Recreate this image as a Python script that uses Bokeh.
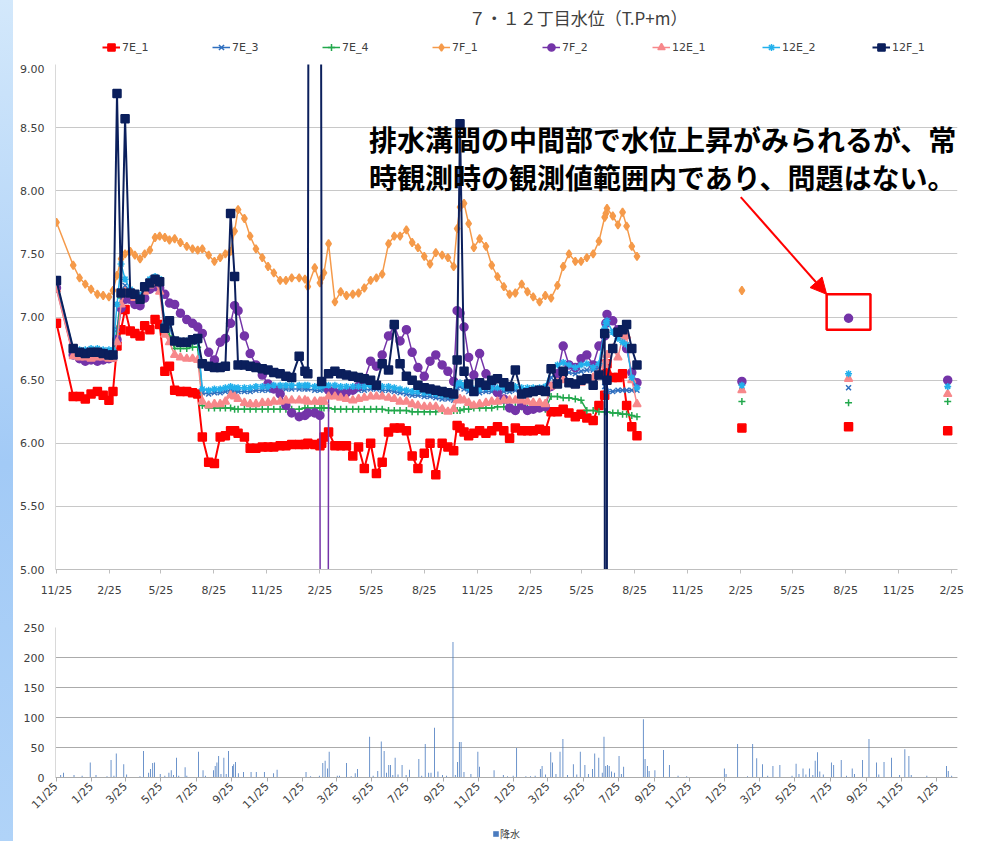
import math
import numpy as np
import pandas as pd
from bokeh.plotting import figure
from bokeh.models import (ColumnDataSource, Legend, LegendItem, Label, Arrow,
                          NormalHead, BoxAnnotation, FixedTicker, Range1d,
                          PrintfTickFormatter)
from bokeh.layouts import column
from bokeh.embed import file_html
from bokeh.resources import INLINE

# ---------------------------------------------------------------- data
START_DATE = "2012-11-25"

# observation days (days since START_DATE)
obs_day = [
    0, 29, 40, 50, 60, 71, 81, 91, 98, 105,
    112, 119, 128, 136, 145, 153, 162, 171, 179, 188,
    196, 205, 215, 226, 236, 245, 253, 264, 274, 284,
    293, 302, 309, 315, 326, 336, 346, 357, 367, 377,
    388, 398, 408, 421, 431, 436, 448, 457, 460, 464,
    472, 483, 493, 503, 514, 524, 534, 545, 555, 565,
    576, 586, 596, 607, 617, 627, 638, 648, 658, 669,
    679, 689, 695, 700, 707, 715, 724, 734, 745, 755,
    765, 776, 786, 796, 807, 817, 827, 838, 848, 858,
    869, 879, 889, 900, 910, 920, 931, 941, 951, 953,
    955, 965, 974, 982, 989, 998, 1007, 1189, 1374, 1546,
]

w_7E_1 = [
    6.95, 6.37, 6.37, 6.35, 6.39, 6.41, 6.38, 6.34, 6.41, 6.77,
    6.90, 7.06, 6.89, 6.87, 6.85, 6.93, 6.90, 6.98, 6.94, 6.57,
    6.61, 6.42, 6.41, 6.41, 6.40, 6.39, 6.05, 5.85, 5.84, 6.05,
    6.06, 6.10, 6.10, 6.08, 6.05, 5.96, 5.96, 5.97, 5.97, 5.97,
    5.98, 5.98, 5.99, 5.99, 5.99, 6.00, 5.99, 5.98, 6.00, 6.05,
    6.09, 5.98, 5.98, 5.98, 5.90, 5.97, 5.80, 6.00, 5.76, 5.85,
    6.09, 6.12, 6.12, 6.10, 5.90, 5.80, 5.92, 6.00, 5.75, 6.00,
    5.97, 5.94, 6.14, 6.12, 6.09, 6.06, 6.08, 6.10, 6.08, 6.10,
    6.13, 6.10, 6.04, 6.12, 6.10, 6.10, 6.10, 6.11, 6.10, 6.25,
    6.25, 6.27, 6.24, 6.21, 6.23, 6.20, 6.18, 6.30, 6.38, 6.55,
    6.63, 6.52, 6.52, 6.55, 6.30, 6.13, 6.06, 6.12, 6.13, 6.10,
]
w_7E_3 = [
    7.26, 6.73, 6.73, 6.72, 6.73, 6.73, 6.72, 6.72, 6.72, 6.90,
    7.18, 7.25, 7.20, 7.18, 7.15, 7.22, 7.28, 7.30, 7.28, 6.92,
    6.92, 6.80, 6.79, 6.79, 6.80, 6.81, 6.40, 6.39, 6.40, 6.40,
    6.41, 6.42, 6.41, 6.41, 6.41, 6.41, 6.42, 6.42, 6.42, 6.43,
    6.43, 6.43, 6.43, 6.43, 6.43, 6.43, 6.42, 6.42, 6.43, 6.43,
    6.43, 6.43, 6.42, 6.42, 6.42, 6.42, 6.42, 6.43, 6.43, 6.42,
    6.42, 6.41, 6.40, 6.39, 6.38, 6.38, 6.37, 6.37, 6.36, 6.35,
    6.35, 6.34, 6.44, 6.45, 6.43, 6.41, 6.40, 6.40, 6.41, 6.41,
    6.41, 6.41, 6.41, 6.42, 6.41, 6.41, 6.41, 6.41, 6.42, 6.52,
    6.55, 6.57, 6.56, 6.55, 6.57, 6.58, 6.58, 6.60, 6.45, 6.42,
    6.41, 6.41, 6.42, 6.42, 6.42, 6.42, 6.42, 6.45, 6.44, 6.46,
]
w_7E_4 = [
    7.25, 6.70, 6.69, 6.68, 6.69, 6.69, 6.68, 6.68, 6.69, 6.85,
    7.15, 7.20, 7.18, 7.16, 7.14, 7.20, 7.25, 7.27, 7.26, 6.90,
    6.85, 6.75, 6.75, 6.75, 6.76, 6.76, 6.30, 6.28, 6.28, 6.28,
    6.28, 6.28, 6.27, 6.27, 6.27, 6.27, 6.27, 6.27, 6.27, 6.27,
    6.27, 6.27, 6.27, 6.27, 6.28, 6.28, 6.28, 6.28, 6.28, 6.28,
    6.28, 6.27, 6.27, 6.27, 6.27, 6.27, 6.27, 6.27, 6.27, 6.27,
    6.26, 6.26, 6.26, 6.26, 6.25, 6.25, 6.25, 6.25, 6.25, 6.26,
    6.26, 6.26, 6.26, 6.26, 6.27, 6.27, 6.28, 6.28, 6.28, 6.28,
    6.29, 6.29, 6.29, 6.29, 6.29, 6.28, 6.28, 6.28, 6.27, 6.37,
    6.37, 6.36, 6.36, 6.35, 6.34, 6.26, 6.26, 6.25, 6.25, 6.25,
    6.25, 6.24, 6.24, 6.23, 6.23, 6.22, 6.21, 6.33, 6.32, 6.33,
]
w_7F_1 = [
    7.75, 7.41, 7.31, 7.26, 7.22, 7.18, 7.17, 7.16, 7.21, 7.33,
    7.46, 7.50, 7.52, 7.49, 7.46, 7.50, 7.53, 7.63, 7.64, 7.63,
    7.61, 7.62, 7.59, 7.56, 7.54, 7.53, 7.54, 7.49, 7.44, 7.47,
    7.50, 7.52, 7.68, 7.85, 7.78, 7.64, 7.54, 7.47, 7.40, 7.35,
    7.29, 7.29, 7.31, 7.31, 7.30, 7.24, 7.39, 7.27, 7.31, 7.35,
    7.58, 7.12, 7.20, 7.17, 7.18, 7.19, 7.23, 7.29, 7.31, 7.34,
    7.58, 7.64, 7.64, 7.69, 7.59, 7.55, 7.48, 7.42, 7.51, 7.49,
    7.47, 7.40, 7.70, 7.87, 7.90, 7.74, 7.55, 7.62, 7.56, 7.41,
    7.32, 7.24, 7.18, 7.19, 7.26, 7.20, 7.16, 7.12, 7.17, 7.15,
    7.25, 7.40, 7.50, 7.44, 7.44, 7.47, 7.50, 7.60, 7.79, 7.82,
    7.86, 7.80, 7.73, 7.83, 7.72, 7.56, 7.48, 7.21, None, None,
]
w_7F_2 = [
    7.23, 6.70, 6.67, 6.65, 6.66, 6.65, 6.66, 6.67, 6.68, 6.82,
    7.07, 7.14, 7.14, 7.10, 7.09, 7.15, 7.22, 7.24, 7.23, 7.18,
    7.11, 7.10, 7.03, 6.98, 6.95, 6.92, 6.87, 6.72, 6.66, 6.80,
    6.83, 6.95, 7.09, 7.05, 6.85, 6.71, 6.62, 6.54, 6.47, 6.43,
    6.39, 6.30, 6.24, 6.21, 6.22, 6.24, 6.24, 6.22, None, -20.0,
    6.42, 6.40, 6.38, 6.40, 6.42, 6.45, 6.50, 6.65, 6.61, 6.70,
    6.85, 6.93, 6.81, 6.90, 6.72, 6.60, 6.53, 6.65, 6.70, 6.62,
    6.57, 6.49, 7.05, 7.03, 6.92, 6.68, 6.54, 6.71, 6.55, 6.48,
    6.40, 6.35, 6.28, 6.26, 6.30, 6.26, 6.27, 6.28, 6.29, 6.45,
    6.55, 6.77, 6.62, 6.60, 6.67, 6.70, 6.62, 6.77, 6.85, 6.95,
    7.02, 6.97, 6.90, 6.88, 6.75, 6.56, 6.48, 6.49, 6.99, 6.50,
]
w_12E_1 = [
    7.22, 6.69, 6.68, 6.68, 6.67, 6.68, 6.68, 6.67, 6.67, 6.80,
    7.10, 7.20, 7.18, 7.15, 7.13, 7.20, 7.25, 7.27, 7.20, 6.86,
    6.80, 6.70, 6.68, 6.67, 6.67, 6.66, 6.33, 6.30, 6.31, 6.31,
    6.33, 6.38, 6.37, 6.35, 6.32, 6.31, 6.31, 6.32, 6.32, 6.33,
    6.33, 6.34, 6.34, 6.34, 6.34, 6.33, 6.33, 6.33, 6.33, 6.33,
    6.37, 6.37, 6.36, 6.35, 6.34, 6.35, 6.36, 6.37, 6.37, 6.37,
    6.36, 6.35, 6.33, 6.33, 6.31, 6.30, 6.29, 6.29, 6.29, 6.27,
    6.25, 6.27, 6.34, 6.35, 6.34, 6.32, 6.30, 6.31, 6.32, 6.33,
    6.33, 6.34, 6.34, 6.34, 6.34, 6.33, 6.32, 6.32, 6.31, 6.45,
    6.48, 6.50, 6.47, 6.46, 6.48, 6.50, 6.52, 6.55, 6.62, 6.65,
    6.70, 6.75, 6.68, 6.84, 6.85, 6.50, 6.31, 6.42, 6.51, 6.39,
]
w_12E_2 = [
    7.28, 6.75, 6.74, 6.74, 6.75, 6.75, 6.74, 6.74, 6.74, 7.10,
    7.42, 7.30, 7.22, 7.19, 7.17, 7.24, 7.30, 7.32, 7.30, 6.95,
    6.95, 6.82, 6.81, 6.81, 6.82, 6.83, 6.43, 6.42, 6.43, 6.43,
    6.44, 6.45, 6.44, 6.44, 6.44, 6.44, 6.45, 6.45, 6.45, 6.46,
    6.46, 6.46, 6.46, 6.46, 6.46, 6.46, 6.45, 6.45, 6.46, 6.46,
    6.46, 6.46, 6.45, 6.45, 6.45, 6.45, 6.45, 6.46, 6.46, 6.45,
    6.45, 6.44, 6.43, 6.42, 6.41, 6.41, 6.40, 6.40, 6.39, 6.38,
    6.38, 6.37, 6.47, 6.48, 6.46, 6.44, 6.43, 6.43, 6.44, 6.44,
    6.44, 6.44, 6.44, 6.45, 6.44, 6.44, 6.44, 6.44, 6.45, 6.58,
    6.62, 6.64, 6.62, 6.60, 6.62, 6.63, 6.60, 6.63, 6.91, 6.95,
    6.97, 6.88, 6.83, 6.80, 6.78, 6.52, 6.44, 6.46, 6.55, 6.45,
]
w_12F_1 = [
    7.29, 6.75, 6.72, 6.71, 6.72, 6.72, 6.71, 6.70, 6.70, 8.77,
    7.19, 8.57, 7.19, 7.18, 7.14, 7.24, 7.27, 7.30, 7.28, 6.91,
    6.97, 6.81, 6.80, 6.80, 6.82, 6.83, 6.63, 6.61, 6.60, 6.60,
    6.61, 7.82, 7.32, 6.62, 6.62, 6.61, 6.60, 6.59, 6.58, 6.56,
    6.55, 6.53, 6.52, 6.69, 6.57, 6.55, 40.0, None, 6.49, None,
    6.55, 6.57, 6.55, 6.54, 6.53, 6.52, 6.51, 6.50, 6.46, 6.63,
    6.58, 6.94, 6.63, 6.53, 6.50, 6.46, 6.44, 6.43, 6.42, 6.41,
    6.40, 6.39, 6.66, 8.53, 6.57, 6.47, 6.41, 6.48, 6.46, 6.50,
    6.51, 6.48, 6.45, 6.58, 6.39, 6.40, 6.41, 6.42, 6.41, 6.59,
    6.47, 6.57, 6.48, 6.47, 6.50, 6.51, 6.46, 6.54, 6.87, -15.0,
    6.50, 6.75, 6.88, 6.90, 6.94, 6.75, 6.62, None, None, None,
]

level_ticks = [5.0, 5.5, 6.0, 6.5, 7.0, 7.5, 8.0, 8.5, 9.0]
top_tick_dates = ["2012-11-25", "2013-02-25", "2013-05-25", "2013-08-25", "2013-11-25",
                  "2014-02-25", "2014-05-25", "2014-08-25", "2014-11-25", "2015-02-25",
                  "2015-05-25", "2015-08-25", "2015-11-25", "2016-02-25", "2016-05-25",
                  "2016-08-25", "2016-11-25", "2017-02-25"]
top_tick_labels = ["11/25", "2/25", "5/25", "8/25", "11/25", "2/25", "5/25", "8/25", "11/25",
                   "2/25", "5/25", "8/25", "11/25", "2/25", "5/25", "8/25", "11/25", "2/25"]

# daily rainfall (mm): day since START_DATE, amount
rain_day = [8, 13, 31, 45, 59, 69, 88, 95, 100, 104, 117, 122, 145, 151, 160, 163, 167, 170,
            180, 188, 195, 199, 203, 208, 212, 223, 226, 246, 254, 258, 272, 275, 278, 281,
            285, 290, 294, 298, 305, 307, 310, 315, 324, 337, 346, 360, 376, 382, 432, 440,
            455, 461, 465, 469, 472, 486, 490, 502, 510, 517, 521, 542, 548, 556, 562, 567,
            571, 575, 578, 582, 586, 591, 598, 605, 611, 627, 632, 638, 644, 648, 654, 660,
            668, 675, 686, 690, 694, 697, 700, 705, 717, 729, 732, 757, 773, 780, 790, 796,
            812, 820, 828, 837, 840, 846, 855, 858, 864, 871, 876, 884, 894, 900, 906, 914,
            920, 927, 931, 938, 944, 947, 950, 953, 956, 960, 965, 973, 977, 981, 1015, 1018,
            1022, 1025, 1035, 1050, 1060, 1075, 1090, 1155, 1158, 1178, 1195, 1204, 1211,
            1221, 1230, 1239, 1251, 1272, 1279, 1284, 1291, 1296, 1302, 1308, 1312, 1316,
            1320, 1326, 1340, 1344, 1357, 1366, 1376, 1380, 1394, 1405, 1418, 1422, 1431,
            1444, 1458, 1467, 1474, 1478, 1505, 1539, 1542, 1548]
rain_mm = [4, 8, 4, 3, 25, 4, 2, 29, 3, 40, 22, 5, 2, 44, 8, 14, 24, 25,
           6, 3, 8, 12, 4, 33, 3, 17, 3, 43, 12, 3, 12, 19, 25, 36,
           6, 33, 6, 44, 19, 22, 26, 7, 9, 9, 9, 9, 7, 13, 9, 2,
           3, 24, 28, 15, 43, 3, 3, 24, 2, 7, 14, 68, 3, 11, 60, 44,
           8, 21, 21, 4, 33, 5, 21, 4, 13, 31, 3, 56, 8, 8, 83, 10,
           4, 3, 226, 4, 26, 59, 59, 9, 6, 43, 18, 12, 4, 2, 3, 49,
           2, 2, 3, 14, 19, 5, 42, 25, 6, 43, 64, 4, 22, 5, 43, 21,
           6, 14, 40, 33, 8, 68, 19, 21, 19, 10, 8, 36, 6, 18, 97, 31,
           19, 11, 12, 46, 21, 3, 2, 15, 6, 56, 2, 56, 32,
           22, 3, 19, 21, 3, 23, 6, 15, 5, 15, 4, 28, 42,
           10, 5, 25, 21, 29, 3, 15, 6, 29, 64, 25, 5, 26,
           33, 4, 47, 36, 4, 3, 19, 11, 3]
rain_ticks = [0, 50, 100, 150, 200, 250]
bot_tick_dates = ["2012-11-25", "2013-01-25", "2013-03-25", "2013-05-25", "2013-07-25",
                  "2013-09-25", "2013-11-25", "2014-01-25", "2014-03-25", "2014-05-25",
                  "2014-07-25", "2014-09-25", "2014-11-25", "2015-01-25", "2015-03-25",
                  "2015-05-25", "2015-07-25", "2015-09-25", "2015-11-25", "2016-01-25",
                  "2016-03-25", "2016-05-25", "2016-07-25", "2016-09-25", "2016-11-25",
                  "2017-01-25"]
bot_tick_labels = ["11/25", "1/25", "3/25", "5/25", "7/25", "9/25", "11/25", "1/25", "3/25",
                   "5/25", "7/25", "9/25", "11/25", "1/25", "3/25", "5/25", "7/25", "9/25",
                   "11/25", "1/25", "3/25", "5/25", "7/25", "9/25", "11/25", "1/25"]

TITLE = "７・１２丁目水位（T.P+m）"
NOTE_1 = "排水溝間の中間部で水位上昇がみられるが、常"
NOTE_2 = "時観測時の観測値範囲内であり、問題はない。"
HIGHLIGHT_DAY = 1374   # the 7F_2 reading that is called out

# ---------------------------------------------------------------- helpers
def days_since(dates):
    t0 = pd.Timestamp(START_DATE)
    return [int((pd.Timestamp(d) - t0).days) for d in dates]


def with_breaks(days, vals, max_gap=60):
    xs, ys, prev = [], [], None
    for d, v in zip(days, vals):
        if v is None:
            continue
        if prev is not None and d - prev > max_gap:
            xs.append(np.nan)
            ys.append(np.nan)
        xs.append(d)
        ys.append(v)
        prev = d
    return xs, ys


def bare_figure(width, height, y_lo):
    # strip figure without axes; its y range lies far away from the data so
    # that only its annotations (title / legends) are visible
    f = figure(width=width, height=height, x_range=Range1d(0, width),
               y_range=Range1d(y_lo, y_lo + height), output_backend="svg",
               toolbar_location=None, title=None, x_axis_location=None,
               y_axis_location=None, min_border=0, outline_line_color=None,
               background_fill_color=None, border_fill_color=None)
    f.grid.visible = False
    return f


TXT = "#404040"
NUMFONT = "DejaVu Sans"
JPFONT = "Noto Sans CJK JP"
W = 977

# ---------------------------------------------------------------- header (title + legend)
head = bare_figure(W, 64, 1000)
head.add_layout(Label(x=566, y=1047, text=TITLE, text_align="center", text_baseline="middle",
                      text_font=JPFONT, text_font_size="17px", text_color=TXT))

# ---------------------------------------------------------------- water level chart
p = figure(width=W, height=537,
           x_range=Range1d(-1.7, 1563), y_range=Range1d(5.0, 9.0),
           output_backend="svg", toolbar_location=None, title=None,
           min_border_left=50, min_border_right=19, min_border_top=0, min_border_bottom=32,
           outline_line_color=None, background_fill_color="white", border_fill_color=None)

p.xgrid.visible = False
p.ygrid.grid_line_color = "#c8c8c8"
p.ygrid.grid_line_width = 1

p.yaxis.ticker = FixedTicker(ticks=level_ticks)
p.yaxis.formatter = PrintfTickFormatter(format="%.2f")
p.yaxis.major_tick_in = 0
p.yaxis.major_tick_out = 0
p.yaxis.major_tick_line_color = None
p.yaxis.minor_tick_line_color = None
p.yaxis.axis_line_color = "#d9d9d9"
p.yaxis.major_label_standoff = 11
p.yaxis.major_label_text_font = NUMFONT
p.yaxis.major_label_text_font_size = "11px"
p.yaxis.major_label_text_color = TXT

top_days = days_since(top_tick_dates)
p.xaxis.ticker = FixedTicker(ticks=top_days)
p.xaxis.major_label_overrides = {d: lab for d, lab in zip(top_days, top_tick_labels)}
p.xaxis.minor_tick_line_color = None
p.xaxis.major_tick_in = 0
p.xaxis.major_tick_out = 4
p.xaxis.major_tick_line_color = "#bfbfbf"
p.xaxis.axis_line_color = "#bfbfbf"
p.xaxis.major_label_standoff = 10
p.xaxis.major_label_text_font = NUMFONT
p.xaxis.major_label_text_font_size = "11px"
p.xaxis.major_label_text_color = TXT

series = [
    ("7E_1", w_7E_1, "#ff0000", "square", 8, 2.0),
    ("7E_3", w_7E_3, "#2f6fbf", "x", 7, 1.5),
    ("7E_4", w_7E_4, "#22a84c", "cross", 7, 1.5),
    ("7F_1", w_7F_1, "#f59a4a", "diamond", 8, 1.5),
    ("7F_2", w_7F_2, "#7434a8", "circle", 8, 1.5),
    ("12E_1", w_12E_1, "#f7888b", "triangle", 8, 1.5),
    ("12E_2", w_12E_2, "#22b0ec", "asterisk", 7, 1.5),
    ("12F_1", w_12F_1, "#0b1f5c", "square", 8, 2.0),
]

items = []
for name, vals, color, marker, size, lw in series:
    assert len(vals) == len(obs_day), name
    lx, ly = with_breaks(obs_day, vals)
    line_src = ColumnDataSource(dict(x=lx, y=ly))
    px = [d for d, v in zip(obs_day, vals) if v is not None]
    py = [v for v in vals if v is not None]
    pt_src = ColumnDataSource(dict(x=px, y=py))
    for fig in (p, head):
        r_line = fig.line("x", "y", source=line_src, line_color=color, line_width=lw)
        r_pts = fig.scatter("x", "y", source=pt_src, marker=marker, size=size,
                            fill_color=color, line_color=color, line_width=1.5)
    # the header copies are out of its view; they only feed the legend swatches
    items.append(LegendItem(label=name, renderers=[r_line, r_pts]))

legend = Legend(items=items, orientation="horizontal", location=(47, 8),
                glyph_width=18, glyph_height=18, label_standoff=2, label_width=40,
                spacing=50, padding=0, margin=0, label_height=12,
                border_line_color=None, background_fill_alpha=0,
                label_text_font=NUMFONT, label_text_font_size="11px",
                label_text_color=TXT)
head.add_layout(legend)

# call-out note, arrow and box around the highlighted reading
p.add_layout(Label(x=542, y=8.41, text=NOTE_1, text_font=JPFONT, text_font_style="bold",
                   text_font_size="28px", text_baseline="middle", text_color="black"))
p.add_layout(Label(x=542, y=8.11, text=NOTE_2, text_font=JPFONT, text_font_style="bold",
                   text_font_size="28px", text_baseline="middle", text_color="black"))

h_val = w_7F_2[obs_day.index(HIGHLIGHT_DAY)]
box_l, box_r = HIGHLIGHT_DAY - 38, HIGHLIGHT_DAY + 38
box_t, box_b = h_val + 0.19, h_val - 0.09
p.add_layout(BoxAnnotation(left=box_l, right=box_r, top=box_t, bottom=box_b,
                           fill_alpha=0, fill_color=None, line_color="#ff0000",
                           line_alpha=1.0, line_width=2.5))
p.add_layout(Arrow(end=NormalHead(size=16, fill_color="#ff0000", line_color="#ff0000"),
                   x_start=1187, y_start=7.95, x_end=box_l, y_end=box_t,
                   line_color="#ff0000", line_width=2))

# ---------------------------------------------------------------- rainfall chart
p2 = figure(width=W, height=218,
            x_range=Range1d(-1, 1558), y_range=Range1d(0, 250),
            output_backend="svg", toolbar_location=None, title=None,
            min_border_left=55, min_border_right=20, min_border_top=26, min_border_bottom=42,
            outline_line_color=None, background_fill_color="white", border_fill_color=None)
p2.xgrid.visible = False
p2.ygrid.grid_line_color = "#ababab"
p2.yaxis.ticker = FixedTicker(ticks=rain_ticks)
p2.yaxis.major_tick_in = 0
p2.yaxis.major_tick_out = 0
p2.yaxis.major_tick_line_color = None
p2.yaxis.minor_tick_line_color = None
p2.yaxis.axis_line_color = "#d9d9d9"
p2.yaxis.major_label_standoff = 11
p2.yaxis.major_label_text_font = NUMFONT
p2.yaxis.major_label_text_font_size = "11px"
p2.yaxis.major_label_text_color = TXT

bot_days = days_since(bot_tick_dates)
p2.xaxis.ticker = FixedTicker(ticks=bot_days)
p2.xaxis.major_label_overrides = {d: lab for d, lab in zip(bot_days, bot_tick_labels)}
p2.xaxis.major_label_orientation = math.pi / 4
p2.xaxis.minor_tick_line_color = None
p2.xaxis.major_tick_in = 0
p2.xaxis.major_tick_out = 4
p2.xaxis.major_tick_line_color = "#ababab"
p2.xaxis.axis_line_color = "#ababab"
p2.xaxis.major_label_standoff = 3
p2.xaxis.major_label_text_font = NUMFONT
p2.xaxis.major_label_text_font_size = "11px"
p2.xaxis.major_label_text_color = TXT

assert len(rain_day) == len(rain_mm)
rain_src = ColumnDataSource(dict(x=rain_day, top=rain_mm))
p2.vbar(x="x", top="top", width=1.4, source=rain_src, fill_color="#4a7bbf", line_color=None)

# ---------------------------------------------------------------- footer (rain legend)
foot = bare_figure(W, 22, 1000)
rain_swatch = foot.vbar(x="x", top="top", width=1.4, source=rain_src,
                        fill_color="#4a7bbf", line_color=None)
legend2 = Legend(items=[LegendItem(label="降水", renderers=[rain_swatch])],
                 orientation="horizontal", location=(437, 0), glyph_width=7, glyph_height=7,
                 label_standoff=1, padding=0, margin=0, label_height=12,
                 border_line_color=None, background_fill_alpha=0, label_text_font=JPFONT,
                 label_text_font_size="10px", label_text_color=TXT)
foot.add_layout(legend2)

# light-blue slide edge on the left of the page, behind the transparent figure borders
page_bg = ("linear-gradient(to right, rgba(255,255,255,0) 0px, rgba(255,255,255,0) 13px, "
           "#ffffff 13px, #ffffff 100%), "
           "linear-gradient(to bottom, #d3e8fb, #a2caf6 55%, #b0d3f8)")
layout = column(head, p, p2, foot, styles={"background": page_bg})

with open("out.html", "w", encoding="utf-8") as f:
    f.write(file_html(layout, INLINE, title="7・12丁目水位"))
